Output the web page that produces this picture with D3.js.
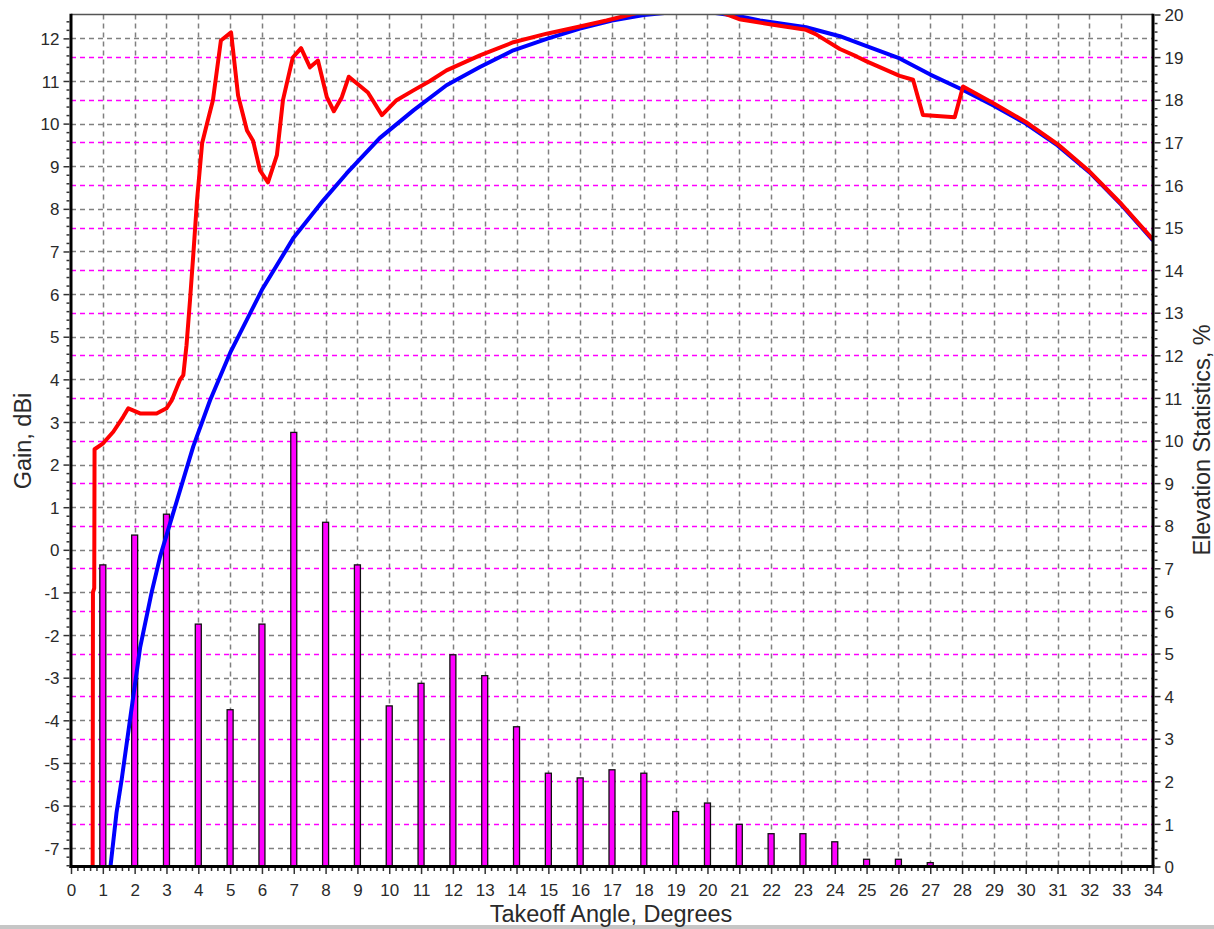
<!DOCTYPE html>
<html>
<head>
<meta charset="utf-8">
<script src="https://cdn.jsdelivr.net/npm/d3@7"></script>
<style>
  html, body { margin: 0; padding: 0; background: #fff; }
  svg { display: block; }
  text { font-family: "Liberation Sans", Arial, sans-serif; fill: #2a2a2a; }
</style>
</head>
<body>
<svg id="chart" width="1214" height="929"></svg>
<script>
// ---------------- DATA ----------------
const xTickLabels = [0,1,2,3,4,5,6,7,8,9,10,11,12,13,14,15,16,17,18,19,20,21,22,23,24,25,26,27,28,29,30,31,32,33,34];
const gainTickLabels = [-7,-6,-5,-4,-3,-2,-1,0,1,2,3,4,5,6,7,8,9,10,11,12];
const pctTickLabels = [0,1,2,3,4,5,6,7,8,9,10,11,12,13,14,15,16,17,18,19,20];

const barAngles = [1,2,3,4,5,6,7,8,9,10,11,12,13,14,15,16,17,18,19,20,21,22,23,24,25,26,27];
const barPercent = [7.08,7.78,8.27,5.69,3.68,5.69,10.19,8.08,7.08,3.77,4.30,4.97,4.48,3.28,2.19,2.08,2.27,2.19,1.29,1.49,0.99,0.77,0.77,0.58,0.17,0.17,0.09];

const blueAngle = [1.2,1.43,1.59,2.17,2.53,2.8,3.21,3.84,4.37,5.0,6.0,7.0,7.93,8.66,9.7,10.76,11.8,12.85,13.9,14.95,15.99,17.0,18.0,19.0,20.0,21.0,21.65,23.1,24.16,25.0,26.04,27.0,28.0,29.0,30.0,31.0,32.0,33.0,34.0];
const blueGain  = [-7.7,-6.17,-5.4,-2.3,-1.01,-0.16,0.86,2.42,3.51,4.62,6.1,7.33,8.2,8.83,9.66,10.31,10.9,11.33,11.72,11.99,12.23,12.42,12.55,12.62,12.62,12.52,12.42,12.26,12.05,11.82,11.53,11.15,10.8,10.42,10.0,9.49,8.86,8.1,7.26];

const redAngle = [0.68,0.69,0.73,0.74,1.01,1.33,1.64,1.8,2.17,2.69,3.0,3.16,3.42,3.53,3.63,3.74,3.85,3.96,4.12,4.3,4.46,4.71,5.03,5.25,5.53,5.72,5.94,6.19,6.47,6.66,6.97,7.23,7.51,7.76,8.04,8.26,8.51,8.73,9.33,9.77,10.23,10.76,11.28,11.8,12.85,13.9,14.95,15.99,16.83,17.8,20.4,21.0,22.06,23.1,23.4,24.16,24.7,25.0,26.04,26.46,26.77,27.77,28.03,29,30,31,32,33,34];
const redGain  = [-7.7,-1.0,-0.9,2.36,2.5,2.77,3.12,3.32,3.2,3.2,3.32,3.5,3.98,4.1,4.8,5.86,7.0,8.2,9.54,10.08,10.55,11.95,12.14,10.66,9.84,9.6,8.9,8.62,9.26,10.55,11.55,11.77,11.32,11.48,10.62,10.29,10.62,11.1,10.73,10.2,10.55,10.78,11.0,11.25,11.6,11.91,12.11,12.28,12.42,12.6,12.62,12.45,12.32,12.2,12.1,11.75,11.57,11.46,11.12,11.03,10.2,10.15,10.87,10.47,10.04,9.52,8.88,8.12,7.28];

// ---------------- LAYOUT ----------------
const L = 71, R = 1153, T = 14.5, B = 866.5;
const svg = d3.select("#chart");

const x = d3.scaleLinear().domain([0, 34]).range([L, R]);
const yG = d3.scaleLinear().domain([-7.43, 12.56]).range([B, T]);
const yP = d3.scaleLinear().domain([0, 20]).range([B, T]);

// background window bottom strip
svg.append("rect").attr("x", 0).attr("y", 925).attr("width", 1214).attr("height", 4).attr("fill", "#c6c6c6");

// clip
svg.append("defs").append("clipPath").attr("id", "plotclip")
  .append("rect").attr("x", L).attr("y", T).attr("width", R - L).attr("height", B - T);

const grid = svg.append("g");
// vertical gray grid
grid.selectAll("line.vx").data(xTickLabels.filter(d => d > 0 && d < 34)).enter().append("line")
  .attr("x1", d => Math.round(x(d)) + 0.5).attr("x2", d => Math.round(x(d)) + 0.5)
  .attr("y1", T).attr("y2", B)
  .attr("stroke", "#808080").attr("stroke-width", 1.5).attr("stroke-dasharray", "5,4");
// horizontal gray grid (gain)
grid.selectAll("line.hg").data(gainTickLabels).enter().append("line")
  .attr("x1", L).attr("x2", R)
  .attr("y1", d => Math.round(yG(d)) + 0.5).attr("y2", d => Math.round(yG(d)) + 0.5)
  .attr("stroke", "#808080").attr("stroke-width", 1.5).attr("stroke-dasharray", "5,4");
// magenta grid (percent)
grid.selectAll("line.hp").data(pctTickLabels.filter(d => d > 0 && d < 20)).enter().append("line")
  .attr("x1", L).attr("x2", R)
  .attr("y1", d => Math.round(yP(d)) + 0.5).attr("y2", d => Math.round(yP(d)) + 0.5)
  .attr("stroke", "#ff00ff").attr("stroke-width", 1.5).attr("stroke-dasharray", "5,4");

// bars
const bw = 6;
svg.append("g").selectAll("rect").data(barAngles).enter().append("rect")
  .attr("x", d => x(d) - bw / 2)
  .attr("y", (d, i) => yP(barPercent[i]))
  .attr("width", bw)
  .attr("height", (d, i) => B - yP(barPercent[i]))
  .attr("fill", "#ff00ff").attr("stroke", "#111").attr("stroke-width", 1.3);

// curves
const plot = svg.append("g").attr("clip-path", "url(#plotclip)");
const line = d3.line().x(d => x(d[0])).y(d => yG(d[1]));
plot.append("path").datum(blueAngle.map((a, i) => [a, blueGain[i]]))
  .attr("d", line).attr("fill", "none").attr("stroke", "#0000ff").attr("stroke-width", 4).attr("stroke-linejoin", "round");
plot.append("path").datum(redAngle.map((a, i) => [a, redGain[i]]))
  .attr("d", line).attr("fill", "none").attr("stroke", "#ff0000").attr("stroke-width", 4).attr("stroke-linejoin", "round");

// frame
svg.append("line").attr("x1", L).attr("x2", R).attr("y1", T).attr("y2", T).attr("stroke", "#555").attr("stroke-width", 1.5);
svg.append("line").attr("x1", L).attr("x2", L).attr("y1", T - 0.75).attr("y2", B + 1.5).attr("stroke", "#000").attr("stroke-width", 3);
svg.append("line").attr("x1", R).attr("x2", R).attr("y1", T - 0.75).attr("y2", B + 1.5).attr("stroke", "#000").attr("stroke-width", 3);
svg.append("line").attr("x1", L - 1.5).attr("x2", R + 1.5).attr("y1", B).attr("y2", B).attr("stroke", "#000").attr("stroke-width", 3);

// axes
const fmt = d => (d < 0 ? "-" + Math.abs(d) : String(d));
const xAxis = svg.append("g").attr("transform", `translate(0,${B + 1.5})`)
  .call(d3.axisBottom(x).tickValues(xTickLabels).tickSize(6).tickFormat(fmt));
const xMinor = svg.append("g").attr("transform", `translate(0,${B + 1.5})`)
  .call(d3.axisBottom(x).tickValues(d3.range(0, 170).filter(k => k % 5 !== 0).map(k => k / 5)).tickSize(3).tickFormat(""));

const yAxisL = svg.append("g").attr("transform", `translate(${L - 1.5},0)`)
  .call(d3.axisLeft(yG).tickValues(gainTickLabels).tickSize(6).tickFormat(fmt));
const yMinorL = svg.append("g").attr("transform", `translate(${L - 1.5},0)`)
  .call(d3.axisLeft(yG).tickValues(d3.range(-37, 63).filter(k => k % 5 !== 0).map(k => k / 5)).tickSize(3).tickFormat(""));

const yAxisR = svg.append("g").attr("transform", `translate(${R + 1.5},0)`)
  .call(d3.axisRight(yP).tickValues(pctTickLabels).tickSize(6).tickFormat(fmt));
const yMinorR = svg.append("g").attr("transform", `translate(${R + 1.5},0)`)
  .call(d3.axisRight(yP).tickValues(d3.range(1, 100).filter(k => k % 5 !== 0).map(k => k / 5)).tickSize(3).tickFormat(""));

[xAxis, xMinor, yAxisL, yMinorL, yAxisR, yMinorR].forEach(g => {
  g.select(".domain").remove();
  g.selectAll(".tick line").attr("stroke", "#333").attr("stroke-width", 1.5);
  g.selectAll("text").attr("font-size", 17).attr("fill", "#2a2a2a")
    .style("font-family", '"Liberation Sans", Arial, sans-serif');
});
xAxis.selectAll("text").attr("dy", "0").attr("y", 28);
yAxisL.selectAll("text").attr("x", -10).attr("dy", "0.36em");
yAxisR.selectAll("text").attr("x", 10).attr("dy", "0.36em");

// titles
svg.append("text").attr("x", 611).attr("y", 922).attr("text-anchor", "middle")
  .attr("font-size", 23.5).text("Takeoff Angle, Degrees");
svg.append("text").attr("transform", "translate(31,441) rotate(-90)").attr("text-anchor", "middle")
  .attr("font-size", 23.5).text("Gain, dBi");
svg.append("text").attr("transform", "translate(1210,440) rotate(-90)").attr("text-anchor", "middle")
  .attr("font-size", 23.5).text("Elevation Statistics, %");
</script>
</body>
</html>
